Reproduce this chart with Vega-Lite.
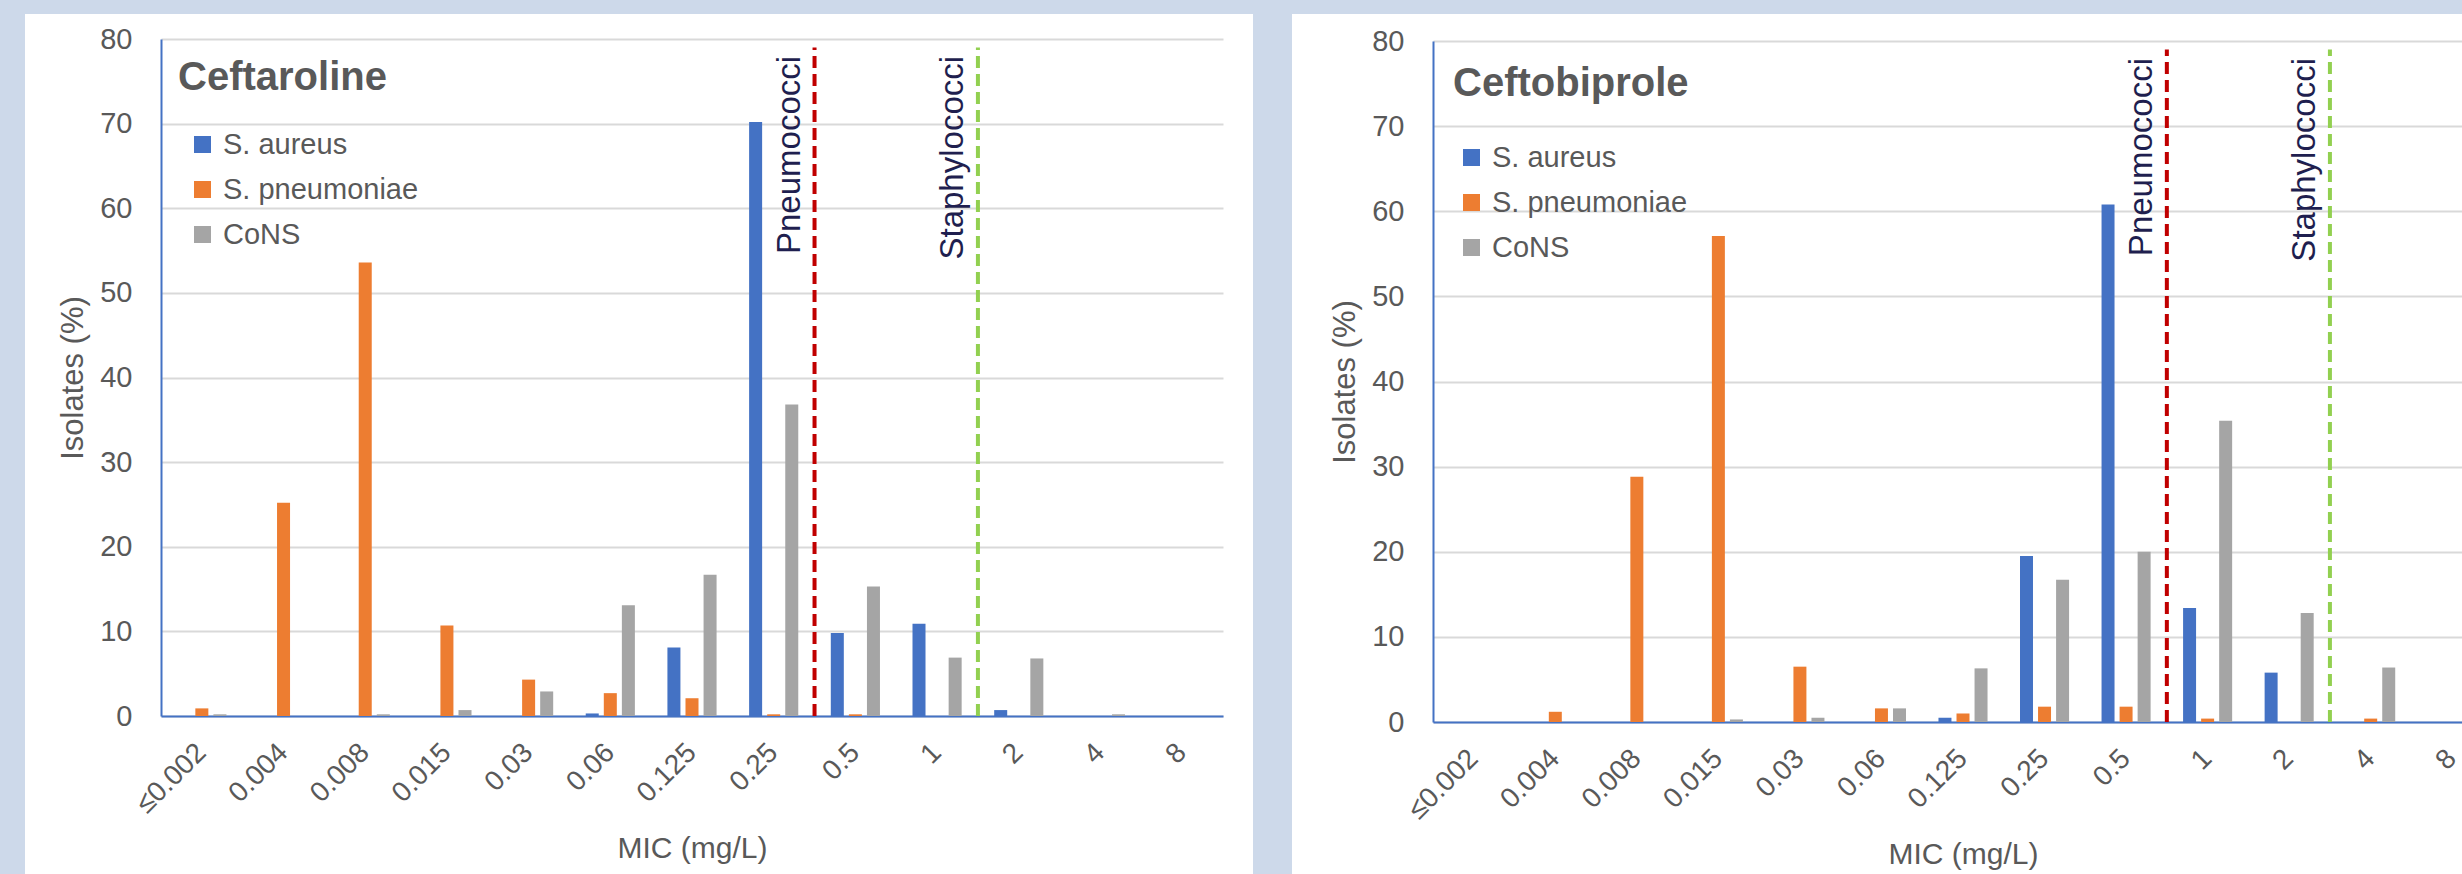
{
  "$schema": "https://vega.github.io/schema/vega-lite/v6.json",
  "background": "#cdd9ea",
  "padding": {"left": 25, "top": 14, "right": 0, "bottom": 0},
  "spacing": 39,
  "bounds": "flush",
  "datasets": {
    "bars": [
      {"drug": "Ceftaroline", "mic": "≤0.002", "organism": "S. aureus", "pct": 0},
      {"drug": "Ceftaroline", "mic": "0.004", "organism": "S. aureus", "pct": 0},
      {"drug": "Ceftaroline", "mic": "0.008", "organism": "S. aureus", "pct": 0},
      {"drug": "Ceftaroline", "mic": "0.015", "organism": "S. aureus", "pct": 0},
      {"drug": "Ceftaroline", "mic": "0.03", "organism": "S. aureus", "pct": 0},
      {"drug": "Ceftaroline", "mic": "0.06", "organism": "S. aureus", "pct": 0.3},
      {"drug": "Ceftaroline", "mic": "0.125", "organism": "S. aureus", "pct": 8.1},
      {"drug": "Ceftaroline", "mic": "0.25", "organism": "S. aureus", "pct": 70.2},
      {"drug": "Ceftaroline", "mic": "0.5", "organism": "S. aureus", "pct": 9.8},
      {"drug": "Ceftaroline", "mic": "1", "organism": "S. aureus", "pct": 10.9},
      {"drug": "Ceftaroline", "mic": "2", "organism": "S. aureus", "pct": 0.7},
      {"drug": "Ceftaroline", "mic": "4", "organism": "S. aureus", "pct": 0},
      {"drug": "Ceftaroline", "mic": "8", "organism": "S. aureus", "pct": 0},
      {"drug": "Ceftaroline", "mic": "≤0.002", "organism": "S. pneumoniae", "pct": 0.9},
      {"drug": "Ceftaroline", "mic": "0.004", "organism": "S. pneumoniae", "pct": 25.2},
      {"drug": "Ceftaroline", "mic": "0.008", "organism": "S. pneumoniae", "pct": 53.6},
      {"drug": "Ceftaroline", "mic": "0.015", "organism": "S. pneumoniae", "pct": 10.7},
      {"drug": "Ceftaroline", "mic": "0.03", "organism": "S. pneumoniae", "pct": 4.3},
      {"drug": "Ceftaroline", "mic": "0.06", "organism": "S. pneumoniae", "pct": 2.7},
      {"drug": "Ceftaroline", "mic": "0.125", "organism": "S. pneumoniae", "pct": 2.1},
      {"drug": "Ceftaroline", "mic": "0.25", "organism": "S. pneumoniae", "pct": 0.2},
      {"drug": "Ceftaroline", "mic": "0.5", "organism": "S. pneumoniae", "pct": 0.2},
      {"drug": "Ceftaroline", "mic": "1", "organism": "S. pneumoniae", "pct": 0},
      {"drug": "Ceftaroline", "mic": "2", "organism": "S. pneumoniae", "pct": 0},
      {"drug": "Ceftaroline", "mic": "4", "organism": "S. pneumoniae", "pct": 0},
      {"drug": "Ceftaroline", "mic": "8", "organism": "S. pneumoniae", "pct": 0},
      {"drug": "Ceftaroline", "mic": "≤0.002", "organism": "CoNS", "pct": 0.2},
      {"drug": "Ceftaroline", "mic": "0.004", "organism": "CoNS", "pct": 0},
      {"drug": "Ceftaroline", "mic": "0.008", "organism": "CoNS", "pct": 0.2},
      {"drug": "Ceftaroline", "mic": "0.015", "organism": "CoNS", "pct": 0.7},
      {"drug": "Ceftaroline", "mic": "0.03", "organism": "CoNS", "pct": 2.9},
      {"drug": "Ceftaroline", "mic": "0.06", "organism": "CoNS", "pct": 13.1},
      {"drug": "Ceftaroline", "mic": "0.125", "organism": "CoNS", "pct": 16.7},
      {"drug": "Ceftaroline", "mic": "0.25", "organism": "CoNS", "pct": 36.8},
      {"drug": "Ceftaroline", "mic": "0.5", "organism": "CoNS", "pct": 15.3},
      {"drug": "Ceftaroline", "mic": "1", "organism": "CoNS", "pct": 6.9},
      {"drug": "Ceftaroline", "mic": "2", "organism": "CoNS", "pct": 6.8},
      {"drug": "Ceftaroline", "mic": "4", "organism": "CoNS", "pct": 0.2},
      {"drug": "Ceftaroline", "mic": "8", "organism": "CoNS", "pct": 0},
      {"drug": "Ceftobiprole", "mic": "≤0.002", "organism": "S. aureus", "pct": 0},
      {"drug": "Ceftobiprole", "mic": "0.004", "organism": "S. aureus", "pct": 0},
      {"drug": "Ceftobiprole", "mic": "0.008", "organism": "S. aureus", "pct": 0},
      {"drug": "Ceftobiprole", "mic": "0.015", "organism": "S. aureus", "pct": 0},
      {"drug": "Ceftobiprole", "mic": "0.03", "organism": "S. aureus", "pct": 0},
      {"drug": "Ceftobiprole", "mic": "0.06", "organism": "S. aureus", "pct": 0},
      {"drug": "Ceftobiprole", "mic": "0.125", "organism": "S. aureus", "pct": 0.5},
      {"drug": "Ceftobiprole", "mic": "0.25", "organism": "S. aureus", "pct": 19.5},
      {"drug": "Ceftobiprole", "mic": "0.5", "organism": "S. aureus", "pct": 60.8},
      {"drug": "Ceftobiprole", "mic": "1", "organism": "S. aureus", "pct": 13.4},
      {"drug": "Ceftobiprole", "mic": "2", "organism": "S. aureus", "pct": 5.8},
      {"drug": "Ceftobiprole", "mic": "4", "organism": "S. aureus", "pct": 0},
      {"drug": "Ceftobiprole", "mic": "8", "organism": "S. aureus", "pct": 0},
      {"drug": "Ceftobiprole", "mic": "≤0.002", "organism": "S. pneumoniae", "pct": 0},
      {"drug": "Ceftobiprole", "mic": "0.004", "organism": "S. pneumoniae", "pct": 1.2},
      {"drug": "Ceftobiprole", "mic": "0.008", "organism": "S. pneumoniae", "pct": 28.8},
      {"drug": "Ceftobiprole", "mic": "0.015", "organism": "S. pneumoniae", "pct": 57.1},
      {"drug": "Ceftobiprole", "mic": "0.03", "organism": "S. pneumoniae", "pct": 6.5},
      {"drug": "Ceftobiprole", "mic": "0.06", "organism": "S. pneumoniae", "pct": 1.6},
      {"drug": "Ceftobiprole", "mic": "0.125", "organism": "S. pneumoniae", "pct": 1.0},
      {"drug": "Ceftobiprole", "mic": "0.25", "organism": "S. pneumoniae", "pct": 1.8},
      {"drug": "Ceftobiprole", "mic": "0.5", "organism": "S. pneumoniae", "pct": 1.8},
      {"drug": "Ceftobiprole", "mic": "1", "organism": "S. pneumoniae", "pct": 0.4},
      {"drug": "Ceftobiprole", "mic": "2", "organism": "S. pneumoniae", "pct": 0},
      {"drug": "Ceftobiprole", "mic": "4", "organism": "S. pneumoniae", "pct": 0.4},
      {"drug": "Ceftobiprole", "mic": "8", "organism": "S. pneumoniae", "pct": 0},
      {"drug": "Ceftobiprole", "mic": "≤0.002", "organism": "CoNS", "pct": 0},
      {"drug": "Ceftobiprole", "mic": "0.004", "organism": "CoNS", "pct": 0},
      {"drug": "Ceftobiprole", "mic": "0.008", "organism": "CoNS", "pct": 0},
      {"drug": "Ceftobiprole", "mic": "0.015", "organism": "CoNS", "pct": 0.3},
      {"drug": "Ceftobiprole", "mic": "0.03", "organism": "CoNS", "pct": 0.5},
      {"drug": "Ceftobiprole", "mic": "0.06", "organism": "CoNS", "pct": 1.6},
      {"drug": "Ceftobiprole", "mic": "0.125", "organism": "CoNS", "pct": 6.3},
      {"drug": "Ceftobiprole", "mic": "0.25", "organism": "CoNS", "pct": 16.7},
      {"drug": "Ceftobiprole", "mic": "0.5", "organism": "CoNS", "pct": 20.0},
      {"drug": "Ceftobiprole", "mic": "1", "organism": "CoNS", "pct": 35.4},
      {"drug": "Ceftobiprole", "mic": "2", "organism": "CoNS", "pct": 12.8},
      {"drug": "Ceftobiprole", "mic": "4", "organism": "CoNS", "pct": 6.4},
      {"drug": "Ceftobiprole", "mic": "8", "organism": "CoNS", "pct": 0}
    ],
    "lines": [
      {"drug": "Ceftaroline", "breakpoint": "Pneumococci", "mic": "0.5"},
      {"drug": "Ceftaroline", "breakpoint": "Staphylococci", "mic": "2"},
      {"drug": "Ceftobiprole", "breakpoint": "Pneumococci", "mic": "1"},
      {"drug": "Ceftobiprole", "breakpoint": "Staphylococci", "mic": "4"}
    ]
  },
  "hconcat": [
    {
      "width": 1228,
      "height": 860,
      "view": {"fill": "#ffffff", "stroke": null},
      "layer": [
        {
          "data": {"name": "bars"},
          "transform": [{"filter": "datum.drug === 'Ceftaroline'"}],
          "mark": {"type": "bar", "clip": true},
          "encoding": {
            "x": {"field": "mic", "type": "nominal", "title": "MIC (mg/L)",
              "scale": {"domain": ["≤0.002","0.004","0.008","0.015","0.03","0.06","0.125","0.25","0.5","1","2","4","8"], "range": [136, 1198], "paddingInner": 0, "paddingOuter": 0},
              "axis": {"offset": -158}},
            "xOffset": {"field": "organism", "type": "nominal", "scale": {"domain": ["S. aureus", "S. pneumoniae", "CoNS"], "paddingInner": 0.28, "paddingOuter": 0.9}},
            "y": {"field": "pct", "type": "quantitative", "title": "Isolates (%)",
              "scale": {"domain": [0, 80], "range": [702, 25], "nice": false},
              "axis": {"offset": -136, "values": [0,10,20,30,40,50,60,70,80]}},
            "color": {"field": "organism", "type": "nominal",
              "scale": {"domain": ["S. aureus", "S. pneumoniae", "CoNS"], "range": ["#4472c4", "#ed7d31", "#a5a5a5"]},
              "legend": {"title": "Ceftaroline", "legendX": 153, "legendY": 44, "titlePadding": 32, "symbolOffset": 10}}
          }
        },
        {
          "data": {"name": "lines"},
          "transform": [{"filter": "datum.drug === 'Ceftaroline'"}],
          "mark": {"type": "rule", "strokeDash": [12, 6], "strokeWidth": 4},
          "encoding": {
            "x": {"field": "mic", "type": "nominal", "title": "MIC (mg/L)", "bandPosition": 0,
              "scale": {"domain": ["≤0.002","0.004","0.008","0.015","0.03","0.06","0.125","0.25","0.5","1","2","4","8"], "range": [136, 1198], "paddingInner": 0, "paddingOuter": 0}},
            "y": {"datum": 0, "type": "quantitative", "title": "Isolates (%)", "scale": {"domain": [0, 80], "range": [702, 25], "nice": false}},
            "y2": {"datum": 79},
            "stroke": {"field": "breakpoint", "type": "nominal", "scale": {"domain": ["Pneumococci", "Staphylococci"], "range": ["#c00000", "#92d050"]}, "legend": null}
          }
        },
        {
          "data": {"name": "lines"},
          "transform": [{"filter": "datum.drug === 'Ceftaroline'"}],
          "mark": {"type": "text", "angle": 270, "align": "right", "baseline": "bottom", "dy": -8, "fontSize": 33, "fill": "#1f1f4f", "font": "Liberation Sans"},
          "encoding": {
            "x": {"field": "mic", "type": "nominal", "title": "MIC (mg/L)", "bandPosition": 0,
              "scale": {"domain": ["≤0.002","0.004","0.008","0.015","0.03","0.06","0.125","0.25","0.5","1","2","4","8"], "range": [136, 1198], "paddingInner": 0, "paddingOuter": 0}},
            "y": {"datum": 78, "type": "quantitative", "title": "Isolates (%)", "scale": {"domain": [0, 80], "range": [702, 25], "nice": false}},
            "text": {"field": "breakpoint"}
          }
        }
      ]
    },
    {
      "width": 1170,
      "height": 860,
      "view": {"fill": "#ffffff", "stroke": null},
      "layer": [
        {
          "data": {"name": "bars"},
          "transform": [{"filter": "datum.drug === 'Ceftobiprole'"}],
          "mark": {"type": "bar", "clip": true},
          "encoding": {
            "x": {"field": "mic", "type": "nominal", "title": "MIC (mg/L)",
              "scale": {"domain": ["≤0.002","0.004","0.008","0.015","0.03","0.06","0.125","0.25","0.5","1","2","4","8"], "range": [141, 1201], "paddingInner": 0, "paddingOuter": 0},
              "axis": {"offset": -152}},
            "xOffset": {"field": "organism", "type": "nominal", "scale": {"domain": ["S. aureus", "S. pneumoniae", "CoNS"], "paddingInner": 0.28, "paddingOuter": 0.9}},
            "y": {"field": "pct", "type": "quantitative", "title": "Isolates (%)",
              "scale": {"domain": [0, 80], "range": [708, 27], "nice": false},
              "axis": {"offset": -141, "values": [0,10,20,30,40,50,60,70,80]}},
            "color": {"field": "organism", "type": "nominal",
              "scale": {"domain": ["S. aureus", "S. pneumoniae", "CoNS"], "range": ["#4472c4", "#ed7d31", "#a5a5a5"]},
              "legend": {"title": "Ceftobiprole", "legendX": 161, "legendY": 50, "titlePadding": 39, "symbolOffset": 4}}
          }
        },
        {
          "data": {"name": "lines"},
          "transform": [{"filter": "datum.drug === 'Ceftobiprole'"}],
          "mark": {"type": "rule", "strokeDash": [12, 6], "strokeWidth": 4},
          "encoding": {
            "x": {"field": "mic", "type": "nominal", "title": "MIC (mg/L)", "bandPosition": 0,
              "scale": {"domain": ["≤0.002","0.004","0.008","0.015","0.03","0.06","0.125","0.25","0.5","1","2","4","8"], "range": [141, 1201], "paddingInner": 0, "paddingOuter": 0}},
            "y": {"datum": 0, "type": "quantitative", "title": "Isolates (%)", "scale": {"domain": [0, 80], "range": [708, 27], "nice": false}},
            "y2": {"datum": 79},
            "stroke": {"field": "breakpoint", "type": "nominal", "scale": {"domain": ["Pneumococci", "Staphylococci"], "range": ["#c00000", "#92d050"]}, "legend": null}
          }
        },
        {
          "data": {"name": "lines"},
          "transform": [{"filter": "datum.drug === 'Ceftobiprole'"}],
          "mark": {"type": "text", "angle": 270, "align": "right", "baseline": "bottom", "dy": -8, "fontSize": 33, "fill": "#1f1f4f", "font": "Liberation Sans"},
          "encoding": {
            "x": {"field": "mic", "type": "nominal", "title": "MIC (mg/L)", "bandPosition": 0,
              "scale": {"domain": ["≤0.002","0.004","0.008","0.015","0.03","0.06","0.125","0.25","0.5","1","2","4","8"], "range": [141, 1201], "paddingInner": 0, "paddingOuter": 0}},
            "y": {"datum": 78, "type": "quantitative", "title": "Isolates (%)", "scale": {"domain": [0, 80], "range": [708, 27], "nice": false}},
            "text": {"field": "breakpoint"}
          }
        }
      ]
    }
  ],
  "resolve": {
    "scale": {"x": "independent", "y": "independent", "xOffset": "independent"},
    "legend": {"color": "independent"}
  },
  "config": {
    "font": "Liberation Sans",
    "view": {"stroke": null},
    "axis": {
      "labelFont": "Liberation Sans", "titleFont": "Liberation Sans",
      "labelColor": "#595959", "titleColor": "#595959", "titleFontWeight": "normal",
      "ticks": false, "gridColor": "#d9d9d9", "gridWidth": 2,
      "domainColor": "#4472c4", "domainWidth": 2,
      "labelFontSize": 28, "titleFontSize": 30
    },
    "axisX": {"grid": false, "labelAngle": -45, "labelAlign": "right", "labelBaseline": "middle", "labelPadding": 32, "titleY": 141, "titleBaseline": "alphabetic"},
    "axisY": {"grid": true, "labelPadding": 29, "titlePadding": 10, "labelFontSize": 29, "titleFontSize": 31},
    "legend": {
      "orient": "none", "titleFont": "Liberation Sans", "labelFont": "Liberation Sans",
      "titleFontSize": 40, "titleFontWeight": "bold", "titleColor": "#595959",
      "labelFontSize": 29, "labelColor": "#595959",
      "symbolType": "square", "symbolSize": 289, "symbolStrokeWidth": 0,
      "rowPadding": 15, "labelOffset": 6, "padding": 0, "titleLimit": 600, "labelLimit": 600
    }
  }
}
